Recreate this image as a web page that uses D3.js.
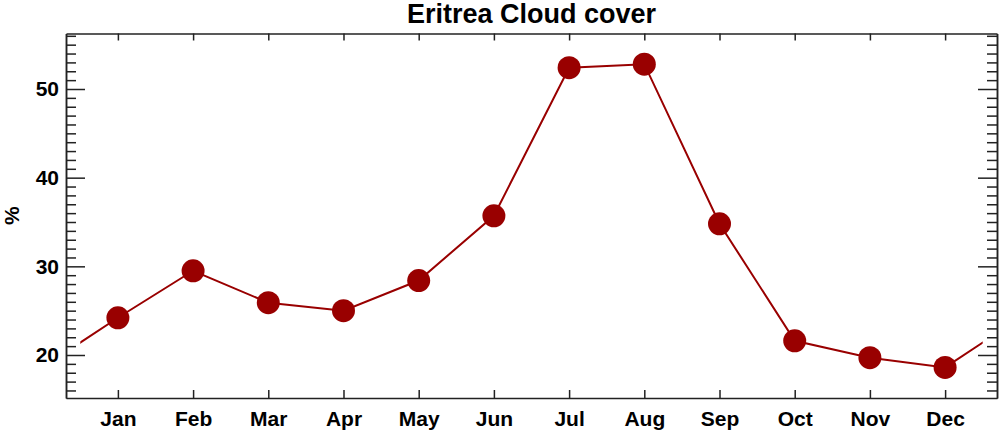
<!DOCTYPE html>
<html lang="en">
<head>
  <meta charset="UTF-8">
  <title>Eritrea Cloud cover</title>
  <script src="https://d3js.org/d3.v7.min.js"></script>
  <style>
    body {
      margin: 0;
      background: white;
      font-family: 'Liberation Sans', Arial, sans-serif;
    }
    .axis path, .axis line {
      stroke: #222;
      stroke-width: 1.5;
    }
    .axis text {
      font-size: 21px;
      font-weight: bold;
      fill: #000;
    }
    .title {
      font-size: 27px;
      font-weight: bold;
    }
  </style>
</head>
<body>
  <svg width="1000" height="433"></svg>

  <script>
    // data
    const months = ['Jan', 'Feb', 'Mar', 'Apr', 'May', 'Jun', 'Jul', 'Aug', 'Sep', 'Oct', 'Nov', 'Dec'];
    const cloud = [24.2, 29.5, 25.9, 25.0, 28.4, 35.7, 52.4, 52.8, 34.8, 21.6, 19.7, 18.6];
    const yMajor = [20, 30, 40, 50];

    let margin = { top: 33.5, right: 3, bottom: 35, left: 66 };
    let width = 1000, height = 433;
    let innerWidth = width - margin.left - margin.right;
    let innerHeight = height - margin.top - margin.bottom;

    let svg = d3.select('svg');
    let chart = svg.append('g')
      .attr('transform', `translate(${margin.left},${margin.top})`);

    let x = d3.scaleLinear().domain([0.31, 12.69]).range([0, innerWidth]);
    let y = d3.scaleLinear().domain([15.15, 56.26]).range([innerHeight, 0]);

    let monthIdx = months.map((m, i) => i + 1);
    let yMinor = d3.range(16, 57).filter(v => !yMajor.includes(v));

    // frame + ticks
    chart.append('g')
      .attr('class', 'axis')
      .attr('transform', `translate(0,${innerHeight})`)
      .call(d3.axisBottom(x).tickValues(monthIdx).tickSize(-8).tickSizeOuter(0)
        .tickPadding(13).tickFormat((d, i) => months[i]));

    chart.append('g')
      .attr('class', 'axis')
      .call(d3.axisTop(x).tickValues(monthIdx).tickSize(-7).tickSizeOuter(0).tickFormat(''));

    chart.append('g')
      .attr('class', 'axis')
      .call(d3.axisLeft(y).tickValues(yMinor).tickSize(-10).tickSizeOuter(0).tickFormat(''));

    chart.append('g')
      .attr('class', 'axis')
      .call(d3.axisLeft(y).tickValues(yMajor).tickSize(-19).tickSizeOuter(0).tickPadding(7));

    chart.append('g')
      .attr('class', 'axis')
      .attr('transform', `translate(${innerWidth},0)`)
      .call(d3.axisRight(y).tickValues(yMinor).tickSize(-10).tickSizeOuter(0).tickFormat(''));

    chart.append('g')
      .attr('class', 'axis')
      .attr('transform', `translate(${innerWidth},0)`)
      .call(d3.axisRight(y).tickValues(yMajor).tickSize(-19).tickSizeOuter(0).tickFormat(''));

    // line wraps Dec -> Jan at both ends, clipped half a month out
    chart.append('clipPath')
      .attr('id', 'wrap')
      .append('rect')
      .attr('x', x(0.5))
      .attr('y', 0)
      .attr('width', x(12.5) - x(0.5))
      .attr('height', innerHeight);

    let linePts = [[0, cloud[11]]]
      .concat(cloud.map((v, i) => [i + 1, v]))
      .concat([[13, cloud[0]]]);

    chart.append('path')
      .datum(linePts)
      .attr('clip-path', 'url(#wrap)')
      .attr('fill', 'none')
      .attr('stroke', '#990000')
      .attr('stroke-width', 2)
      .attr('d', d3.line().x(d => x(d[0])).y(d => y(d[1])));

    chart.selectAll('.dot')
      .data(cloud)
      .enter().append('circle')
      .attr('class', 'dot')
      .attr('cx', (d, i) => x(i + 1))
      .attr('cy', d => y(d))
      .attr('r', 11.5)
      .attr('fill', '#990000');

    // labels
    svg.append('text')
      .attr('class', 'title')
      .attr('x', margin.left + innerWidth / 2)
      .attr('y', 23)
      .attr('text-anchor', 'middle')
      .text('Eritrea Cloud cover');

    svg.append('text')
      .attr('transform', `translate(19,${margin.top + innerHeight / 2}) rotate(-90)`)
      .attr('text-anchor', 'middle')
      .style('font-size', '21px')
      .style('font-weight', 'bold')
      .text('%');
  </script>
</body>
</html>
